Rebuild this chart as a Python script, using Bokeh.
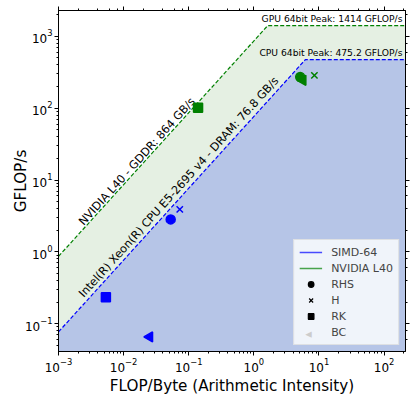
import math
import numpy as np
from bokeh.plotting import figure
from bokeh.models import Range1d, LogAxis, Legend, LegendItem, Label
from bokeh.embed import file_html
from bokeh.resources import INLINE
from bokeh.core.properties import value

# ---------------- data ----------------
x_limits = [1e-3, 213.0]
y_limits = [0.041, 2290.0]

cpu_label = "Intel(R) Xeon(R) CPU E5-2695 v4 - DRAM: 76.8 GB/s"
cpu_bw = 76.8          # GB/s
cpu_peak = 475.2       # GFLOP/s
cpu_peak_label = "CPU 64bit Peak: 475.2 GFLOP/s"

gpu_label = "NVIDIA L40 - GDDR: 864 GB/s"
gpu_bw = 864.0         # GB/s
gpu_peak = 1414.0      # GFLOP/s
gpu_peak_label = "GPU 64bit Peak: 1414 GFLOP/s"

kernels = ["RHS", "H", "RK", "BC"]
cpu_ai = [0.0528, 0.0728, 0.00534, 0.0251]
cpu_perf = [2.83, 3.9, 0.233, 0.0655]
gpu_ai = [5.15, 8.5, 0.139, 5.67]
gpu_perf = [271.0, 286.0, 101.0, 244.0]

legend_devices = ["SIMD-64", "NVIDIA L40"]

# ---------------- styles ----------------
FONT = "DejaVu Sans"
CPU_COLOR = "blue"
GPU_COLOR = "green"
CPU_FILL = "#b6c5e7"
GPU_FILL = "#e5f0e3"
marker_style = {
    "RHS": dict(marker="circle", size=9, angle=0.0),
    "H": dict(marker="x", size=9, angle=0.0),
    "RK": dict(marker="square", size=9, angle=0.0),
    "BC": dict(marker="triangle", size=10, angle=math.pi / 2),
}


def roof(bw, peak):
    ridge = peak / bw
    ai = [x_limits[0], ridge, x_limits[1]]
    perf = [min(bw * a, peak) for a in ai]
    return ai, perf


p = figure(width=415, height=397, x_axis_type="log", y_axis_type="log",
           x_range=Range1d(*x_limits), y_range=Range1d(*y_limits),
           output_backend="svg", toolbar_location=None,
           min_border_left=58, min_border_right=10, min_border_top=10, min_border_bottom=44)
p.grid.visible = False
p.outline_line_color = "black"
p.outline_line_width = 1
p.background_fill_color = "white"

gpu_ai_r, gpu_perf_r = roof(gpu_bw, gpu_peak)
cpu_ai_r, cpu_perf_r = roof(cpu_bw, cpu_peak)

p.varea(x=gpu_ai_r, y1=[y_limits[0]] * 3, y2=gpu_perf_r, fill_color=GPU_FILL)
p.varea(x=cpu_ai_r, y1=[y_limits[0]] * 3, y2=cpu_perf_r, fill_color=CPU_FILL)
p.line(gpu_ai_r, gpu_perf_r, line_color=GPU_COLOR, line_dash="4 2", line_width=1.2)
p.line(cpu_ai_r, cpu_perf_r, line_color=CPU_COLOR, line_dash="4 2", line_width=1.2)

# rotated bandwidth labels
ang = math.radians(48)
x0 = 0.00223
p.text(x=[x0], y=[gpu_bw * x0 * 1.28], text=[gpu_label], angle=ang,
       text_font=value(FONT), text_font_size="11.3px", text_align="left",
       text_baseline="alphabetic", text_color="black")
p.text(x=[x0], y=[cpu_bw * x0 * 1.43], text=[cpu_label], angle=ang,
       text_font=value(FONT), text_font_size="11.3px", text_align="left",
       text_baseline="alphabetic", text_color="black")

# peak labels
p.text(x=[x_limits[1]], y=[gpu_peak * 1.24], text=[gpu_peak_label], x_offset=-3,
       text_font=value(FONT), text_font_size="9.2px", text_align="right",
       text_baseline="middle", text_color="black")
p.text(x=[x_limits[1]], y=[cpu_peak * 1.24], text=[cpu_peak_label], x_offset=-3,
       text_font=value(FONT), text_font_size="9.2px", text_align="right",
       text_baseline="middle", text_color="black")

# data points
for k, ax, ay, gx, gy in zip(kernels, cpu_ai, cpu_perf, gpu_ai, gpu_perf):
    st = marker_style[k]
    p.scatter([ax], [ay], marker=st["marker"], size=st["size"], angle=st["angle"],
              fill_color=CPU_COLOR, line_color=CPU_COLOR, line_width=1.5)
    p.scatter([gx], [gy], marker=st["marker"], size=st["size"], angle=st["angle"],
              fill_color=GPU_COLOR, line_color=GPU_COLOR, line_width=1.5)

# legend renderers (no data, legend glyph only)
items = []
r = p.line(x=[np.nan], y=[np.nan], line_color=CPU_COLOR, line_alpha=0.7, line_width=1.5)
items.append(LegendItem(label=legend_devices[0], renderers=[r]))
r = p.line(x=[np.nan], y=[np.nan], line_color=GPU_COLOR, line_alpha=0.7, line_width=1.5)
items.append(LegendItem(label=legend_devices[1], renderers=[r]))
for k in kernels:
    st = marker_style[k]
    alpha = 0.0 if k == "BC" else 1.0   # BC glyph drawn below as a left-pointing triangle
    r = p.scatter(x=[np.nan], y=[np.nan], marker=st["marker"], size=5,
                  fill_color="black", line_color="black", line_width=1.2,
                  fill_alpha=alpha, line_alpha=alpha)
    items.append(LegendItem(label=k, renderers=[r]))

legend = Legend(items=items, location="bottom_right", background_fill_alpha=0.8,
                border_line_color="#cccccc", border_line_width=1,
                label_text_font=FONT, label_text_font_size="11px",
                glyph_height=14, label_height=14, glyph_width=23, spacing=2,
                padding=5, margin=6, label_standoff=9)
p.add_layout(legend, "center")

# left-pointing triangle for the BC legend entry (frame-relative screen units)
p.add_layout(Label(x=250, y=18, x_units="screen", y_units="screen", level="overlay",
                   text="\u25C2", text_font="DejaVu Sans", text_font_size="13px",
                   text_color="black", text_align="center", text_baseline="middle"))

# axes
for ax in [p.xaxis[0], p.yaxis[0]]:
    ax.major_tick_in = 0
    ax.major_tick_out = 4
    ax.minor_tick_in = 0
    ax.minor_tick_out = 2
    ax.major_tick_line_color = "black"
    ax.minor_tick_line_color = "black"
    ax.axis_line_color = "black"
    ax.major_label_text_font = FONT
    ax.major_label_text_font_size = "12px"
    ax.major_label_text_color = "black"
    ax.major_label_standoff = 2
    ax.axis_label_text_font = FONT
    ax.axis_label_text_font_size = "15.2px"
    ax.axis_label_text_font_style = "normal"
    ax.axis_label_text_color = "black"
    ax.axis_label_standoff = 2
p.yaxis[0].axis_label_standoff = -8
p.xaxis[0].axis_label = "FLOP/Byte (Arithmetic Intensity)"
p.yaxis[0].axis_label = "GFLOP/s"

for loc in ["above", "right"]:
    a = LogAxis(major_tick_in=0, major_tick_out=4, minor_tick_in=0, minor_tick_out=2,
                major_tick_line_color="black", minor_tick_line_color="black",
                axis_line_color="black", major_label_text_font_size="1px",
                major_label_text_alpha=0.0, major_label_standoff=0)
    p.add_layout(a, loc)

open("out.html", "w").write(file_html(p, INLINE))
